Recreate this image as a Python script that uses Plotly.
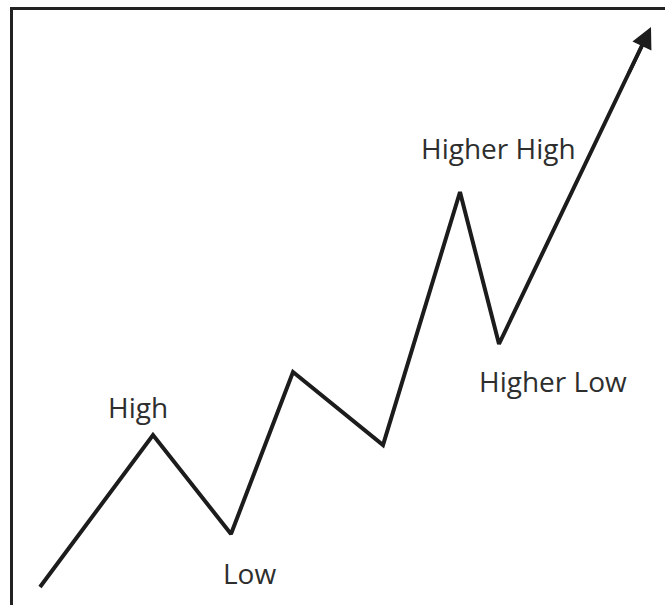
import plotly.graph_objects as go

# Swing points (time, price)
times = [40, 153, 231, 293, 383, 460, 499, 651]
prices = [18, 170, 71, 233, 160, 413, 261, 578]

labels = ["High", "Low", "Higher High", "Higher Low"]
label_times = [138, 249, 498, 553]
label_prices = [198, 32, 457, 224]

line_color = "#1c1c1c"

fig = go.Figure()
fig.add_trace(go.Scatter(
    x=times[:-1] + [times[-1] - 4], y=prices[:-1] + [prices[-1] - 8],
    mode="lines", line=dict(color=line_color, width=4),
    hoverinfo="skip", showlegend=False,
))
# arrow head on the last segment
fig.add_annotation(
    x=times[-1], y=prices[-1], ax=times[-2] + (times[-1] - times[-2]) * 0.85,
    ay=prices[-2] + (prices[-1] - prices[-2]) * 0.85,
    xref="x", yref="y", axref="x", ayref="y",
    showarrow=True, arrowhead=2, arrowsize=1.2, arrowwidth=3.5, arrowcolor=line_color, text="",
)
for t, px_, lab in zip(label_times, label_prices, labels):
    fig.add_annotation(x=t, y=px_, text=lab, showarrow=False, xref="x", yref="y",
                       font=dict(family="Open Sans, sans-serif", size=28, color="#2e2e2e"))

# frame (top and left edges)
fig.add_shape(type="line", xref="paper", yref="paper", x0=10 / 665, x1=1, y0=1 - 8.5 / 605, y1=1 - 8.5 / 605,
              line=dict(color="#222222", width=3))
fig.add_shape(type="line", xref="paper", yref="paper", x0=11.5 / 665, x1=11.5 / 665, y0=0, y1=1 - 7 / 605,
              line=dict(color="#222222", width=3))

fig.update_layout(
    width=665, height=605, margin=dict(l=0, r=0, t=0, b=0),
    paper_bgcolor="white", plot_bgcolor="white",
    xaxis=dict(range=[0, 665], visible=False, fixedrange=True),
    yaxis=dict(range=[0, 605], visible=False, fixedrange=True),
)
fig.write_html("out.html", config={"displayModeBar": False},
               post_script="document.body.style.margin='0';document.body.style.overflow='hidden';")
